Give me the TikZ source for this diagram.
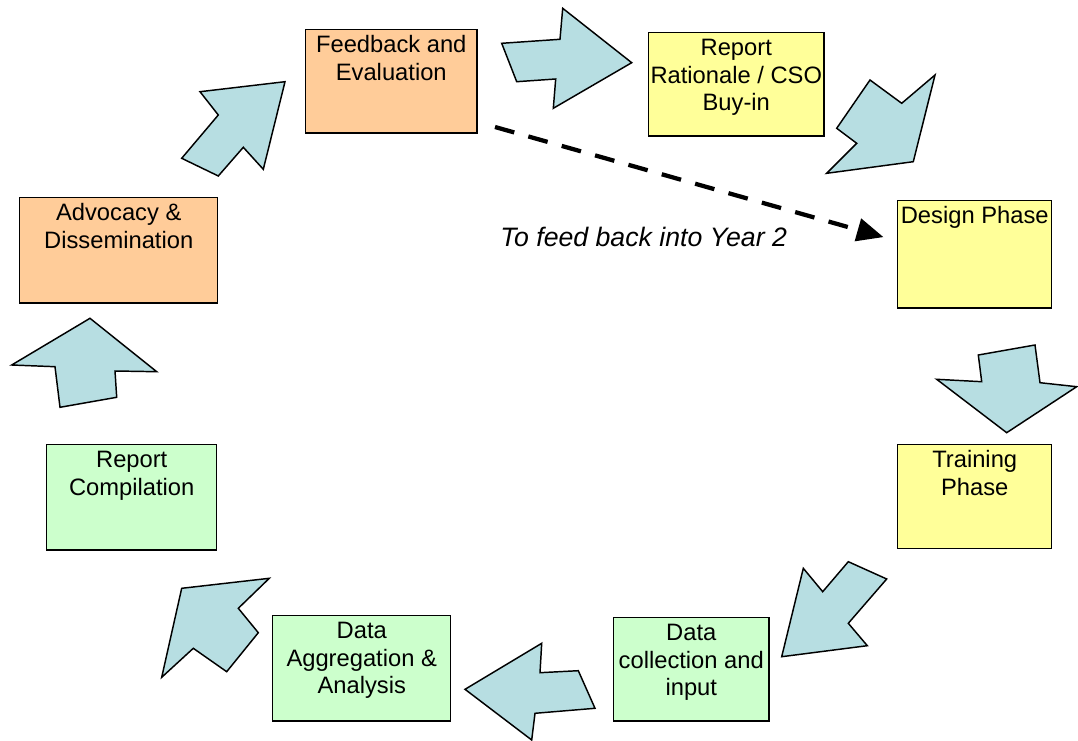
\documentclass[tikz,border=0pt]{standalone}
\usepackage{fontspec}
\setmainfont{Liberation Sans}
\usetikzlibrary{arrows.meta}

\definecolor{evalorange}{RGB}{255,204,153}
\definecolor{planyellow}{RGB}{255,255,153}
\definecolor{datagreen}{RGB}{204,255,204}
\definecolor{flowblue}{RGB}{183,222,226}

\newcommand{\stagetext}[3]{\parbox[c][#2][t]{#1}{\centering\vspace*{3.2pt}\strut#3}}

\tikzset{
  stage/.style={draw=black, line width=1.1pt, anchor=north west, inner sep=0pt,
    font=\fontsize{17.8}{20.3}\selectfont},
  flow/.style={fill=flowblue, draw=black, line width=1.1pt, line join=miter},
  feed/.style={line width=3.2pt, dash pattern=on 15pt off 11pt,
    -{Triangle[length=20pt,width=17pt]}}
}

\begin{document}
\begin{tikzpicture}[x=0.75pt,y=-0.75pt]
\useasboundingbox (0,0) rectangle (1078,741);

\node[stage, fill=evalorange] (fe) at (305,29) {\stagetext{128.3pt}{77.3pt}{Feedback and\\Evaluation}};
\node[stage, fill=planyellow] (rr) at (648,32) {\stagetext{131.3pt}{77.3pt}{Report\\Rationale / CSO\\Buy-in}};
\node[stage, fill=planyellow] (dp) at (897,200) {\stagetext{115.5pt}{80.3pt}{Design Phase}};
\node[stage, fill=planyellow] (tp) at (897,444) {\stagetext{115.5pt}{78pt}{Training\\Phase}};
\node[stage, fill=datagreen] (dc) at (613,617) {\stagetext{116.3pt}{77.3pt}{Data\\collection and\\input}};
\node[stage, fill=datagreen] (da) at (272,615) {\stagetext{133.5pt}{78.8pt}{Data\\Aggregation \&\\Analysis}};
\node[stage, fill=datagreen] (rc) at (46,444) {\stagetext{127.5pt}{78.8pt}{Report\\Compilation}};
\node[stage, fill=evalorange] (ad) at (19,197) {\stagetext{148.5pt}{78.8pt}{Advocacy \&\\Dissemination}};

\filldraw[flow] (501.7,43.3) -- (560,39.3) -- (562.7,8.3) -- (631.7,62.7) -- (553.3,108.3) -- (555.7,79) -- (516.7,81.7) -- cycle;
\filldraw[flow] (870,80) -- (901.7,103.3) -- (935,75) -- (913.3,161.7) -- (826.7,173.3) -- (856.7,143.3) -- (836.7,128.3) -- cycle;
\filldraw[flow] (978.3,355) -- (1035,345) -- (1040,382.7) -- (1076.7,386.7) -- (1006.7,432.7) -- (936.7,379.3) -- (981.7,381.7) -- cycle;
\filldraw[flow] (803.3,568.3) -- (822.7,591.7) -- (848.3,561.7) -- (886.7,579) -- (848.3,623.3) -- (867.3,645.7) -- (781.7,656.7) -- cycle;
\filldraw[flow] (465,689.3) -- (541.7,643.3) -- (540,672.7) -- (578.3,670.7) -- (595,708.3) -- (535,713.3) -- (531.7,740) -- cycle;
\filldraw[flow] (181.7,588.3) -- (269.3,578.3) -- (238.3,608.3) -- (258.3,632.7) -- (226.7,671.7) -- (193.3,648.3) -- (161.7,677.3) -- cycle;
\filldraw[flow] (90,318.3) -- (156.7,371.7) -- (115,371) -- (116.7,397.3) -- (60,407.3) -- (55,366.7) -- (11.7,365) -- cycle;
\filldraw[flow] (285,81.7) -- (263.3,169.3) -- (243.3,147.3) -- (218.3,176) -- (181.7,158.3) -- (218.3,115) -- (200,91.7) -- cycle;

\coordinate (fbstart) at (495,127);
\draw[feed, shorten >=10.5pt] (fbstart) -- ([yshift=10pt]dp.west);
\node[anchor=base west, inner sep=0pt, font=\fontsize{20}{24}\selectfont\itshape] (yeartwo) at (500,247) {To feed back into Year 2};
\end{tikzpicture}
\end{document}
